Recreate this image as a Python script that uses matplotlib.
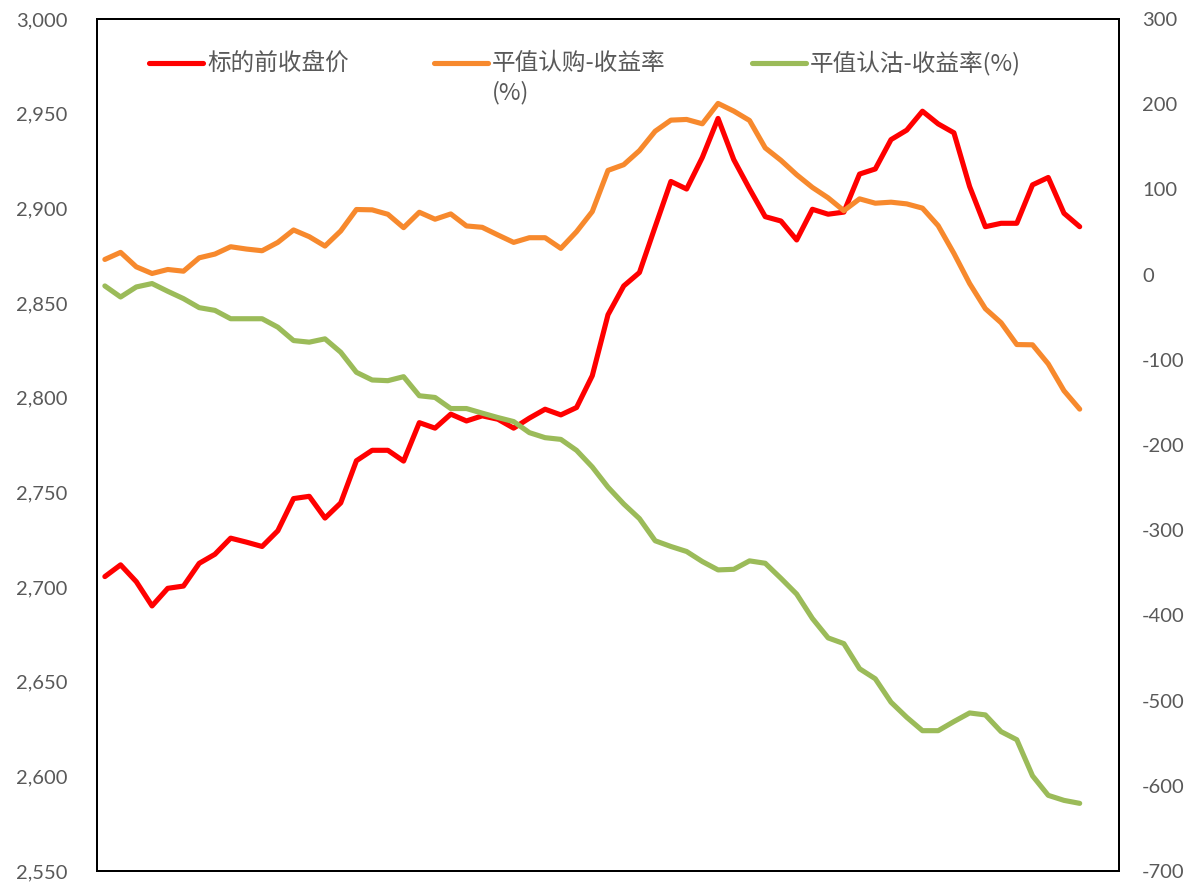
import matplotlib
matplotlib.use("Agg")
import matplotlib.pyplot as plt
from matplotlib.lines import Line2D
import numpy as np

# ---- data ----
price = [2705.5, 2711.7, 2702.8, 2690.0, 2699.3, 2700.5, 2712.5, 2717.3, 2725.8, 2723.7,
         2721.4, 2729.7, 2746.7, 2747.9, 2736.4, 2744.4, 2766.7, 2772.2, 2772.2, 2766.5,
         2786.8, 2783.9, 2791.3, 2787.7, 2790.4, 2788.6, 2783.9, 2789.2, 2793.9, 2790.9,
         2794.8, 2811.6, 2843.8, 2859.0, 2866.1, 2890.3, 2914.2, 2910.2, 2926.9, 2947.5,
         2925.7, 2910.3, 2895.6, 2893.3, 2883.3, 2899.5, 2896.9, 2898.0, 2918.1, 2920.8,
         2936.3, 2941.3, 2951.3, 2944.6, 2939.9, 2911.5, 2890.3, 2892.1, 2892.1, 2912.4,
         2916.3, 2897.4, 2890.3]
call_ret = [17.8, 26.1, 9.1, 1.3, 6.0, 4.0, 19.7, 24.1, 32.7, 30.0,
            28.0, 37.8, 52.4, 44.5, 33.5, 51.2, 76.4, 76.0, 70.8, 55.1,
            73.2, 65.0, 71.2, 57.1, 55.5, 46.5, 37.8, 43.3, 43.3, 30.8,
            50.4, 74.0, 122.3, 129.0, 145.5, 168.3, 181.3, 182.1, 177.0, 200.9,
            191.9, 180.9, 148.7, 134.1, 117.2, 102.3, 90.1, 75.0, 88.9, 83.8,
            85.0, 83.0, 78.0, 57.4, 24.9, -10.5, -40.0, -56.5, -82.1, -82.4,
            -104.8, -136.3, -157.9]
put_ret = [-13.3, -26.3, -14.5, -10.5, -19.6, -28.2, -38.8, -42.0, -51.8, -51.8,
           -51.8, -61.7, -77.4, -79.3, -75.4, -91.1, -114.7, -123.7, -124.5, -119.8,
           -142.2, -144.2, -157.2, -157.2, -162.6, -167.8, -172.5, -185.5, -191.4, -193.4,
           -206.3, -225.8, -249.5, -269.2, -286.4, -312.4, -319.1, -325.0, -336.8, -346.6,
           -345.9, -336.0, -338.8, -356.5, -375.0, -403.6, -426.4, -433.1, -462.6, -474.4,
           -501.9, -519.6, -535.3, -535.3, -524.6, -514.5, -516.8, -536.4, -545.9, -588.3,
           -611.2, -617.1, -620.6]
left_ticks = [2550, 2600, 2650, 2700, 2750, 2800, 2850, 2900, 2950, 3000]
right_ticks = [-700, -600, -500, -400, -300, -200, -100, 0, 100, 200, 300]
labels = ["标的前收盘价", "平值认购-收益率", "平值认沽-收益率(%)"]

RED = "#FF0000"
ORANGE = "#F7892D"
GREEN = "#9BBB59"
GRAY = "#595959"
LW = 3.7

W, H = 1188, 884
fig = plt.figure(figsize=(W / 100, H / 100), dpi=100)
ax = fig.add_axes([97 / W, 1 - 871 / H, (1119 - 97) / W, (871 - 19) / H])
ax2 = ax.twinx()

x = np.arange(len(price))
ax.plot(x, price, color=RED, lw=LW, solid_joinstyle="round", solid_capstyle="round")
ax2.plot(x, call_ret, color=ORANGE, lw=LW, solid_joinstyle="round", solid_capstyle="round")
ax2.plot(x, put_ret, color=GREEN, lw=LW, solid_joinstyle="round", solid_capstyle="round")

ax.set_xlim(-0.5, 64.5)
ax.set_ylim(2550, 3000)
ax2.set_ylim(-700, 300)
ax.set_xticks([])
ax.set_yticks(left_ticks)
ax.set_yticklabels([f"{v:,}" for v in left_ticks])
ax2.set_yticks(right_ticks)
ax2.set_yticklabels([str(v) for v in right_ticks])

tick_font = ["Lato", "DejaVu Sans"]
for lab in ax.get_yticklabels():
    lab.set_family(tick_font)
for lab in ax2.get_yticklabels():
    lab.set_family(tick_font)
ax.tick_params(axis="y", length=0, pad=21, labelsize=14.5, labelcolor=GRAY)
ax2.tick_params(axis="y", length=0, pad=16.5, labelsize=14.5, labelcolor=GRAY)
for a in (ax, ax2):
    for s in a.spines.values():
        s.set_color("black")
        s.set_linewidth(1.4)

# ---- legend (manual) ----
cjk = ["Noto Sans CJK SC", "DejaVu Sans"]
def fx(px):
    return px / W
def fy(py):
    return 1 - py / H

ly = 63
entries = [(149, 203, 207, RED, labels[0]),
           (434, 488, 492, ORANGE, labels[1]),
           (752, 806, 810, GREEN, labels[2])]
for x0, x1, tx, c, t in entries:
    fig.add_artist(Line2D([fx(x0), fx(x1)], [fy(ly), fy(ly)], color=c, lw=LW,
                          solid_capstyle="round", transform=fig.transFigure))
    fig.text(fx(tx), fy(ly), t, color=GRAY, fontsize=17, family=cjk,
             ha="left", va="center")
fig.text(fx(492), fy(93), "(%)", color=GRAY, fontsize=17, family=cjk,
         ha="left", va="center")

fig.savefig("out.png", dpi=100, facecolor="white")
